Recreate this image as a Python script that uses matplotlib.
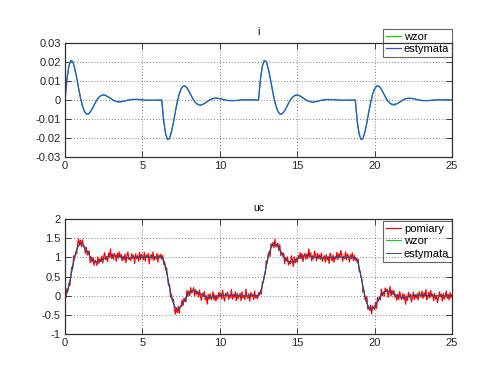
import numpy as np
import matplotlib
matplotlib.use("Agg")
import matplotlib.pyplot as plt
from matplotlib.ticker import FuncFormatter

# sampling steps of the model / measurement series
dt_model = 0.125
dt_pom = 0.0625

# current i: reference model (wzor)
i_wzor = [
    0.0000, 0.0109, 0.0179, 0.0208, 0.0202, 0.0168, 0.0119, 0.0063, 0.0011, -0.0031,
    -0.0059, -0.0073, -0.0074, -0.0064, -0.0047, -0.0027, -0.0008, 0.0008, 0.0019, 0.0025,
    0.0027, 0.0024, 0.0018, 0.0012, 0.0005, -0.0002, -0.0006, -0.0009, -0.0010, -0.0009,
    -0.0007, -0.0005, -0.0002, 0.0000, 0.0002, 0.0003, 0.0003, 0.0003, 0.0003, 0.0002,
    0.0001, 0.0000, -0.0001, -0.0001, -0.0001, -0.0001, -0.0001, -0.0001, 0.0000, 0.0000,
    0.0000, -0.0109, -0.0179, -0.0208, -0.0202, -0.0168, -0.0119, -0.0063, -0.0011, 0.0031,
    0.0059, 0.0073, 0.0074, 0.0064, 0.0047, 0.0027, 0.0008, -0.0008, -0.0019, -0.0025,
    -0.0027, -0.0024, -0.0018, -0.0012, -0.0005, 0.0002, 0.0006, 0.0009, 0.0010, 0.0009,
    0.0007, 0.0005, 0.0002, 0.0000, -0.0002, -0.0003, -0.0003, -0.0003, -0.0003, -0.0002,
    -0.0001, 0.0000, 0.0001, 0.0001, 0.0001, 0.0001, 0.0001, 0.0001, 0.0000, 0.0000,
    0.0000, 0.0109, 0.0179, 0.0208, 0.0202, 0.0168, 0.0119, 0.0063, 0.0011, -0.0031,
    -0.0059, -0.0073, -0.0074, -0.0064, -0.0047, -0.0027, -0.0008, 0.0008, 0.0019, 0.0025,
    0.0027, 0.0024, 0.0018, 0.0012, 0.0005, -0.0002, -0.0006, -0.0009, -0.0010, -0.0009,
    -0.0007, -0.0005, -0.0002, 0.0000, 0.0002, 0.0003, 0.0003, 0.0003, 0.0003, 0.0002,
    0.0001, 0.0000, -0.0001, -0.0001, -0.0001, -0.0001, -0.0001, -0.0001, 0.0000, 0.0000,
    0.0000, -0.0109, -0.0179, -0.0208, -0.0202, -0.0168, -0.0119, -0.0063, -0.0011, 0.0031,
    0.0059, 0.0073, 0.0074, 0.0064, 0.0047, 0.0027, 0.0008, -0.0008, -0.0019, -0.0025,
    -0.0027, -0.0024, -0.0018, -0.0012, -0.0005, 0.0002, 0.0006, 0.0009, 0.0010, 0.0009,
    0.0007, 0.0005, 0.0002, 0.0000, -0.0002, -0.0003, -0.0003, -0.0003, -0.0003, -0.0002,
    -0.0001, 0.0000, 0.0001, 0.0001, 0.0001, 0.0001, 0.0001, 0.0001, 0.0000, 0.0000,
    0.0000,
]

# current i: estimate (estymata)
i_est = [
    0.0000, 0.0108, 0.0179, 0.0208, 0.0202, 0.0168, 0.0119, 0.0063, 0.0011, -0.0031,
    -0.0059, -0.0073, -0.0074, -0.0064, -0.0047, -0.0027, -0.0008, 0.0008, 0.0019, 0.0025,
    0.0027, 0.0024, 0.0018, 0.0012, 0.0005, -0.0002, -0.0006, -0.0009, -0.0010, -0.0009,
    -0.0007, -0.0005, -0.0002, 0.0000, 0.0002, 0.0003, 0.0003, 0.0003, 0.0003, 0.0002,
    0.0001, 0.0000, -0.0001, -0.0001, -0.0001, -0.0001, -0.0001, -0.0001, 0.0000, 0.0000,
    0.0000, -0.0109, -0.0179, -0.0208, -0.0202, -0.0168, -0.0119, -0.0063, -0.0011, 0.0031,
    0.0059, 0.0073, 0.0074, 0.0064, 0.0047, 0.0027, 0.0008, -0.0008, -0.0019, -0.0025,
    -0.0027, -0.0024, -0.0018, -0.0012, -0.0005, 0.0002, 0.0006, 0.0009, 0.0010, 0.0009,
    0.0007, 0.0005, 0.0002, 0.0000, -0.0002, -0.0003, -0.0003, -0.0003, -0.0003, -0.0002,
    -0.0001, 0.0000, 0.0001, 0.0001, 0.0001, 0.0001, 0.0001, 0.0001, 0.0000, 0.0000,
    0.0000, 0.0109, 0.0179, 0.0208, 0.0202, 0.0168, 0.0119, 0.0063, 0.0011, -0.0031,
    -0.0059, -0.0073, -0.0074, -0.0064, -0.0047, -0.0027, -0.0008, 0.0008, 0.0018, 0.0024,
    0.0026, 0.0023, 0.0017, 0.0011, 0.0004, -0.0003, -0.0007, -0.0010, -0.0011, -0.0010,
    -0.0008, -0.0006, -0.0003, -0.0001, 0.0001, 0.0002, 0.0002, 0.0002, 0.0002, 0.0001,
    0.0001, 0.0000, -0.0001, -0.0001, -0.0001, -0.0001, -0.0001, -0.0001, 0.0000, 0.0000,
    0.0000, -0.0109, -0.0179, -0.0208, -0.0202, -0.0168, -0.0119, -0.0063, -0.0011, 0.0031,
    0.0059, 0.0073, 0.0074, 0.0064, 0.0047, 0.0027, 0.0008, -0.0007, -0.0017, -0.0022,
    -0.0023, -0.0021, -0.0016, -0.0010, -0.0004, 0.0002, 0.0006, 0.0008, 0.0009, 0.0008,
    0.0007, 0.0005, 0.0002, 0.0000, -0.0002, -0.0003, -0.0003, -0.0003, -0.0003, -0.0002,
    -0.0001, 0.0000, 0.0001, 0.0001, 0.0001, 0.0001, 0.0001, 0.0001, 0.0000, 0.0000,
    0.0000,
]

# capacitor voltage uc: reference model (wzor)
uc_wzor = [
    0.000, 0.073, 0.260, 0.510, 0.774, 1.011, 1.194, 1.309, 1.355, 1.342,
    1.283, 1.197, 1.103, 1.015, 0.944, 0.897, 0.875, 0.875, 0.893, 0.922,
    0.955, 0.988, 1.014, 1.033, 1.044, 1.045, 1.040, 1.031, 1.019, 1.007,
    0.997, 0.989, 0.985, 0.984, 0.985, 0.988, 0.992, 0.997, 1.000, 1.003,
    1.005, 1.006, 1.006, 1.005, 1.003, 1.002, 1.001, 1.000, 0.999, 0.999,
    1.000, 0.927, 0.740, 0.490, 0.226, -0.011, -0.194, -0.309, -0.355, -0.342,
    -0.283, -0.197, -0.103, -0.015, 0.056, 0.103, 0.125, 0.125, 0.107, 0.078,
    0.045, 0.012, -0.014, -0.033, -0.044, -0.045, -0.040, -0.031, -0.019, -0.007,
    0.003, 0.011, 0.015, 0.016, 0.015, 0.012, 0.008, 0.003, 0.000, -0.003,
    -0.005, -0.006, -0.006, -0.005, -0.003, -0.002, -0.001, 0.000, 0.001, 0.001,
    0.000, 0.073, 0.260, 0.510, 0.774, 1.011, 1.194, 1.309, 1.355, 1.342,
    1.283, 1.197, 1.103, 1.015, 0.944, 0.897, 0.875, 0.875, 0.893, 0.922,
    0.955, 0.988, 1.014, 1.033, 1.044, 1.045, 1.040, 1.031, 1.019, 1.007,
    0.997, 0.989, 0.985, 0.984, 0.985, 0.988, 0.992, 0.997, 1.000, 1.003,
    1.005, 1.006, 1.006, 1.005, 1.003, 1.002, 1.001, 1.000, 0.999, 0.999,
    1.000, 0.927, 0.740, 0.490, 0.226, -0.011, -0.194, -0.309, -0.355, -0.342,
    -0.283, -0.197, -0.103, -0.015, 0.056, 0.103, 0.125, 0.125, 0.107, 0.078,
    0.045, 0.012, -0.014, -0.033, -0.044, -0.045, -0.040, -0.031, -0.019, -0.007,
    0.003, 0.011, 0.015, 0.016, 0.015, 0.012, 0.008, 0.003, 0.000, -0.003,
    -0.005, -0.006, -0.006, -0.005, -0.003, -0.002, -0.001, 0.000, 0.001, 0.001,
    0.000,
]

# capacitor voltage uc: estimate (estymata)
uc_est = [
    0.000, 0.058, 0.236, 0.492, 0.765, 1.008, 1.192, 1.308, 1.355, 1.343,
    1.284, 1.198, 1.104, 1.016, 0.945, 0.898, 0.876, 0.876, 0.893, 0.922,
    0.955, 0.988, 1.014, 1.033, 1.044, 1.045, 1.040, 1.031, 1.019, 1.007,
    0.997, 0.989, 0.985, 0.984, 0.985, 0.988, 0.992, 0.997, 1.000, 1.003,
    1.005, 1.006, 1.006, 1.005, 1.003, 1.002, 1.001, 1.000, 0.999, 0.999,
    1.000, 0.927, 0.740, 0.490, 0.226, -0.011, -0.194, -0.309, -0.355, -0.342,
    -0.283, -0.197, -0.103, -0.015, 0.056, 0.103, 0.125, 0.125, 0.107, 0.078,
    0.045, 0.012, -0.014, -0.033, -0.044, -0.045, -0.040, -0.031, -0.019, -0.007,
    0.003, 0.011, 0.015, 0.016, 0.015, 0.012, 0.008, 0.003, 0.000, -0.003,
    -0.005, -0.006, -0.006, -0.005, -0.003, -0.002, -0.001, 0.000, 0.001, 0.001,
    0.000, 0.073, 0.260, 0.510, 0.774, 1.011, 1.194, 1.309, 1.355, 1.342,
    1.283, 1.197, 1.103, 1.015, 0.944, 0.897, 0.875, 0.875, 0.893, 0.922,
    0.955, 0.988, 1.014, 1.033, 1.044, 1.045, 1.040, 1.031, 1.019, 1.007,
    0.997, 0.989, 0.985, 0.984, 0.985, 0.988, 0.992, 0.997, 1.000, 1.003,
    1.005, 1.006, 1.006, 1.005, 1.003, 1.002, 1.001, 1.000, 0.999, 0.999,
    1.000, 0.927, 0.740, 0.490, 0.226, -0.011, -0.194, -0.309, -0.355, -0.342,
    -0.283, -0.197, -0.103, -0.015, 0.056, 0.103, 0.125, 0.125, 0.107, 0.078,
    0.045, 0.012, -0.014, -0.033, -0.044, -0.045, -0.040, -0.031, -0.019, -0.007,
    0.003, 0.011, 0.015, 0.016, 0.015, 0.012, 0.008, 0.003, 0.000, -0.003,
    -0.005, -0.006, -0.006, -0.005, -0.003, -0.002, -0.001, 0.000, 0.001, 0.001,
    0.000,
]

# capacitor voltage uc: noisy measurement (pomiary)
uc_pomiary = [
    0.05, -0.05, 0.18, 0.13, 0.33, 0.27, 0.53, 0.74, 0.71, 1.04,
    0.97, 1.14, 1.09, 1.32, 1.48, 1.32, 1.44, 1.28, 1.46, 1.27,
    1.29, 1.11, 1.26, 1.06, 1.14, 1.16, 0.86, 1.01, 0.88, 1.00,
    0.79, 0.93, 0.88, 0.79, 1.01, 0.84, 0.96, 0.89, 1.03, 0.85,
    1.02, 1.12, 0.94, 1.02, 0.89, 1.11, 1.00, 1.22, 0.97, 1.09,
    0.95, 1.10, 1.05, 0.90, 1.11, 0.98, 1.14, 0.99, 1.08, 0.91,
    1.03, 0.93, 1.09, 0.86, 1.04, 1.14, 0.94, 1.00, 0.91, 1.10,
    0.98, 1.05, 0.84, 1.09, 0.97, 1.04, 0.90, 1.13, 0.94, 1.08,
    1.01, 0.94, 1.13, 0.90, 1.06, 0.99, 1.10, 0.83, 1.03, 1.07,
    0.95, 1.14, 0.92, 1.02, 0.96, 1.10, 0.88, 1.06, 0.99, 1.08,
    0.95, 1.05, 0.82, 0.87, 0.67, 0.73, 0.47, 0.26, 0.29, -0.04,
    0.03, -0.14, -0.09, -0.32, -0.48, -0.32, -0.44, -0.28, -0.46, -0.27,
    -0.29, -0.11, -0.26, -0.06, -0.14, -0.16, 0.14, -0.01, 0.12, 0.00,
    0.21, 0.07, 0.12, 0.21, -0.01, 0.16, 0.04, 0.11, -0.03, 0.15,
    -0.02, -0.12, 0.06, -0.02, 0.11, -0.11, 0.00, -0.22, 0.03, -0.09,
    0.05, -0.10, -0.05, 0.10, -0.11, 0.02, -0.14, 0.01, -0.08, 0.09,
    -0.03, 0.07, -0.09, 0.14, -0.04, -0.14, 0.06, 0.00, 0.09, -0.10,
    0.02, -0.05, 0.16, -0.09, 0.03, -0.04, 0.10, -0.13, 0.06, -0.08,
    -0.01, 0.06, -0.13, 0.10, -0.06, 0.01, -0.10, 0.17, -0.03, -0.07,
    0.05, -0.14, 0.08, -0.02, 0.04, -0.10, 0.12, -0.06, 0.01, -0.08,
    0.08, 0.02, 0.13, 0.04, 0.36, 0.35, 0.53, 0.57, 0.91, 0.85,
    1.08, 1.14, 1.02, 1.35, 1.29, 1.39, 1.25, 1.47, 1.27, 1.32,
    1.36, 1.18, 1.33, 1.05, 1.14, 1.03, 1.11, 0.83, 1.00, 0.91,
    1.01, 0.80, 0.90, 0.83, 1.04, 0.93, 0.76, 1.01, 0.86, 0.97,
    0.87, 1.04, 0.97, 1.12, 0.96, 1.10, 0.89, 1.05, 1.10, 0.95,
    1.09, 0.97, 1.22, 1.01, 1.12, 0.91, 1.04, 0.96, 1.16, 1.06,
    0.91, 1.10, 0.97, 1.06, 0.95, 1.11, 0.90, 0.98, 1.04, 0.88,
    1.07, 0.93, 1.02, 0.84, 1.10, 1.04, 0.91, 1.06, 0.87, 1.01,
    0.96, 1.13, 0.94, 1.09, 0.99, 1.18, 1.07, 0.90, 1.03, 0.96,
    1.14, 0.94, 1.09, 1.02, 0.88, 1.07, 0.97, 1.11, 0.92, 1.05,
    0.92, 0.98, 0.87, 0.96, 0.64, 0.65, 0.47, 0.43, 0.09, 0.15,
    -0.08, -0.14, -0.02, -0.35, -0.29, -0.39, -0.25, -0.47, -0.27, -0.32,
    -0.36, -0.18, -0.33, -0.05, -0.14, -0.03, -0.11, 0.17, 0.00, 0.09,
    -0.01, 0.20, 0.10, 0.17, -0.04, 0.07, 0.24, -0.01, 0.14, 0.03,
    0.13, -0.04, 0.03, -0.12, 0.04, -0.10, 0.11, -0.05, -0.10, 0.05,
    -0.09, 0.03, -0.22, -0.01, -0.12, 0.09, -0.04, 0.04, -0.16, -0.06,
    0.09, -0.10, 0.03, -0.06, 0.05, -0.11, 0.10, 0.02, -0.04, 0.12,
    -0.07, 0.07, -0.02, 0.16, -0.10, -0.04, 0.09, -0.06, 0.13, -0.01,
    0.04, -0.13, 0.06, -0.09, 0.01, -0.18, -0.07, 0.10, -0.03, 0.04,
    -0.14, 0.06, -0.09, -0.02, 0.12, -0.07, 0.03, -0.11, 0.08, -0.05,
    0.03,
]

x_ticks = [0, 5, 10, 15, 20, 25]
i_ticks = [-0.03, -0.02, -0.01, 0, 0.01, 0.02, 0.03]
uc_ticks = [-1, -0.5, 0, 0.5, 1, 1.5, 2]

plt.rcParams['font.family'] = ['Liberation Sans', 'DejaVu Sans']
plt.rcParams['font.size'] = 8
plt.rcParams['axes.unicode_minus'] = False

t_model = np.arange(len(i_wzor)) * dt_model
t_pom = np.arange(len(uc_pomiary)) * dt_pom

GREEN = '#00e000'
BLUE = '#3050f0'
RED = '#ff0000'


def style_axes(ax, yticks):
    ax.set_xlim(0, 25)
    ax.set_ylim(yticks[0], yticks[-1])
    ax.set_xticks(x_ticks)
    ax.set_yticks(yticks)
    ax.yaxis.set_major_formatter(FuncFormatter(lambda v, p: "%g" % round(v, 4)))
    ax.xaxis.set_major_formatter(FuncFormatter(lambda v, p: "%g" % v))
    ax.tick_params(direction='in', length=4, width=0.6, top=True, right=True,
                   colors='#262626', labelcolor='#262626', pad=3)
    ax.grid(True, color='#555555', linestyle=(0, (1, 2.5)), linewidth=0.6)
    for sp in ax.spines.values():
        sp.set_linewidth(0.9)
        sp.set_color('#303030')


def add_legend(ax, top):
    leg = ax.legend(loc='upper right', bbox_to_anchor=(1.0, top), fontsize=8,
                    frameon=True, fancybox=False, facecolor='none', edgecolor='#404040',
                    borderpad=0.25, labelspacing=0.25, handlelength=1.3,
                    handletextpad=0.3, borderaxespad=0)
    leg.get_frame().set_linewidth(0.8)
    return leg


fig = plt.figure(figsize=(5, 3.75), dpi=100)
ax1 = fig.add_axes([0.13, 0.5813, 0.774, 0.304])
ax2 = fig.add_axes([0.13, 0.1093, 0.774, 0.3067])

# top: current
ax1.plot(t_model, i_wzor, color=GREEN, linewidth=0.9, label='wzor')
ax1.plot(t_model, i_est, color=BLUE, linewidth=0.9, label='estymata')
style_axes(ax1, i_ticks)
ax1.set_title('i', fontsize=7.5, pad=6)
add_legend(ax1, 1.125)

# bottom: capacitor voltage
ax2.plot(t_pom, uc_pomiary, color=RED, linewidth=0.9, label='pomiary')
ax2.plot(t_model, uc_wzor, color=GREEN, linewidth=0.7, label='wzor')
ax2.plot(t_model, uc_est, color='#2020e0', linewidth=0.6, label='estymata')
style_axes(ax2, uc_ticks)
ax2.set_title('uc', fontsize=7.5, pad=6)
add_legend(ax2, 0.985)

fig.savefig('out.png', dpi=100)
